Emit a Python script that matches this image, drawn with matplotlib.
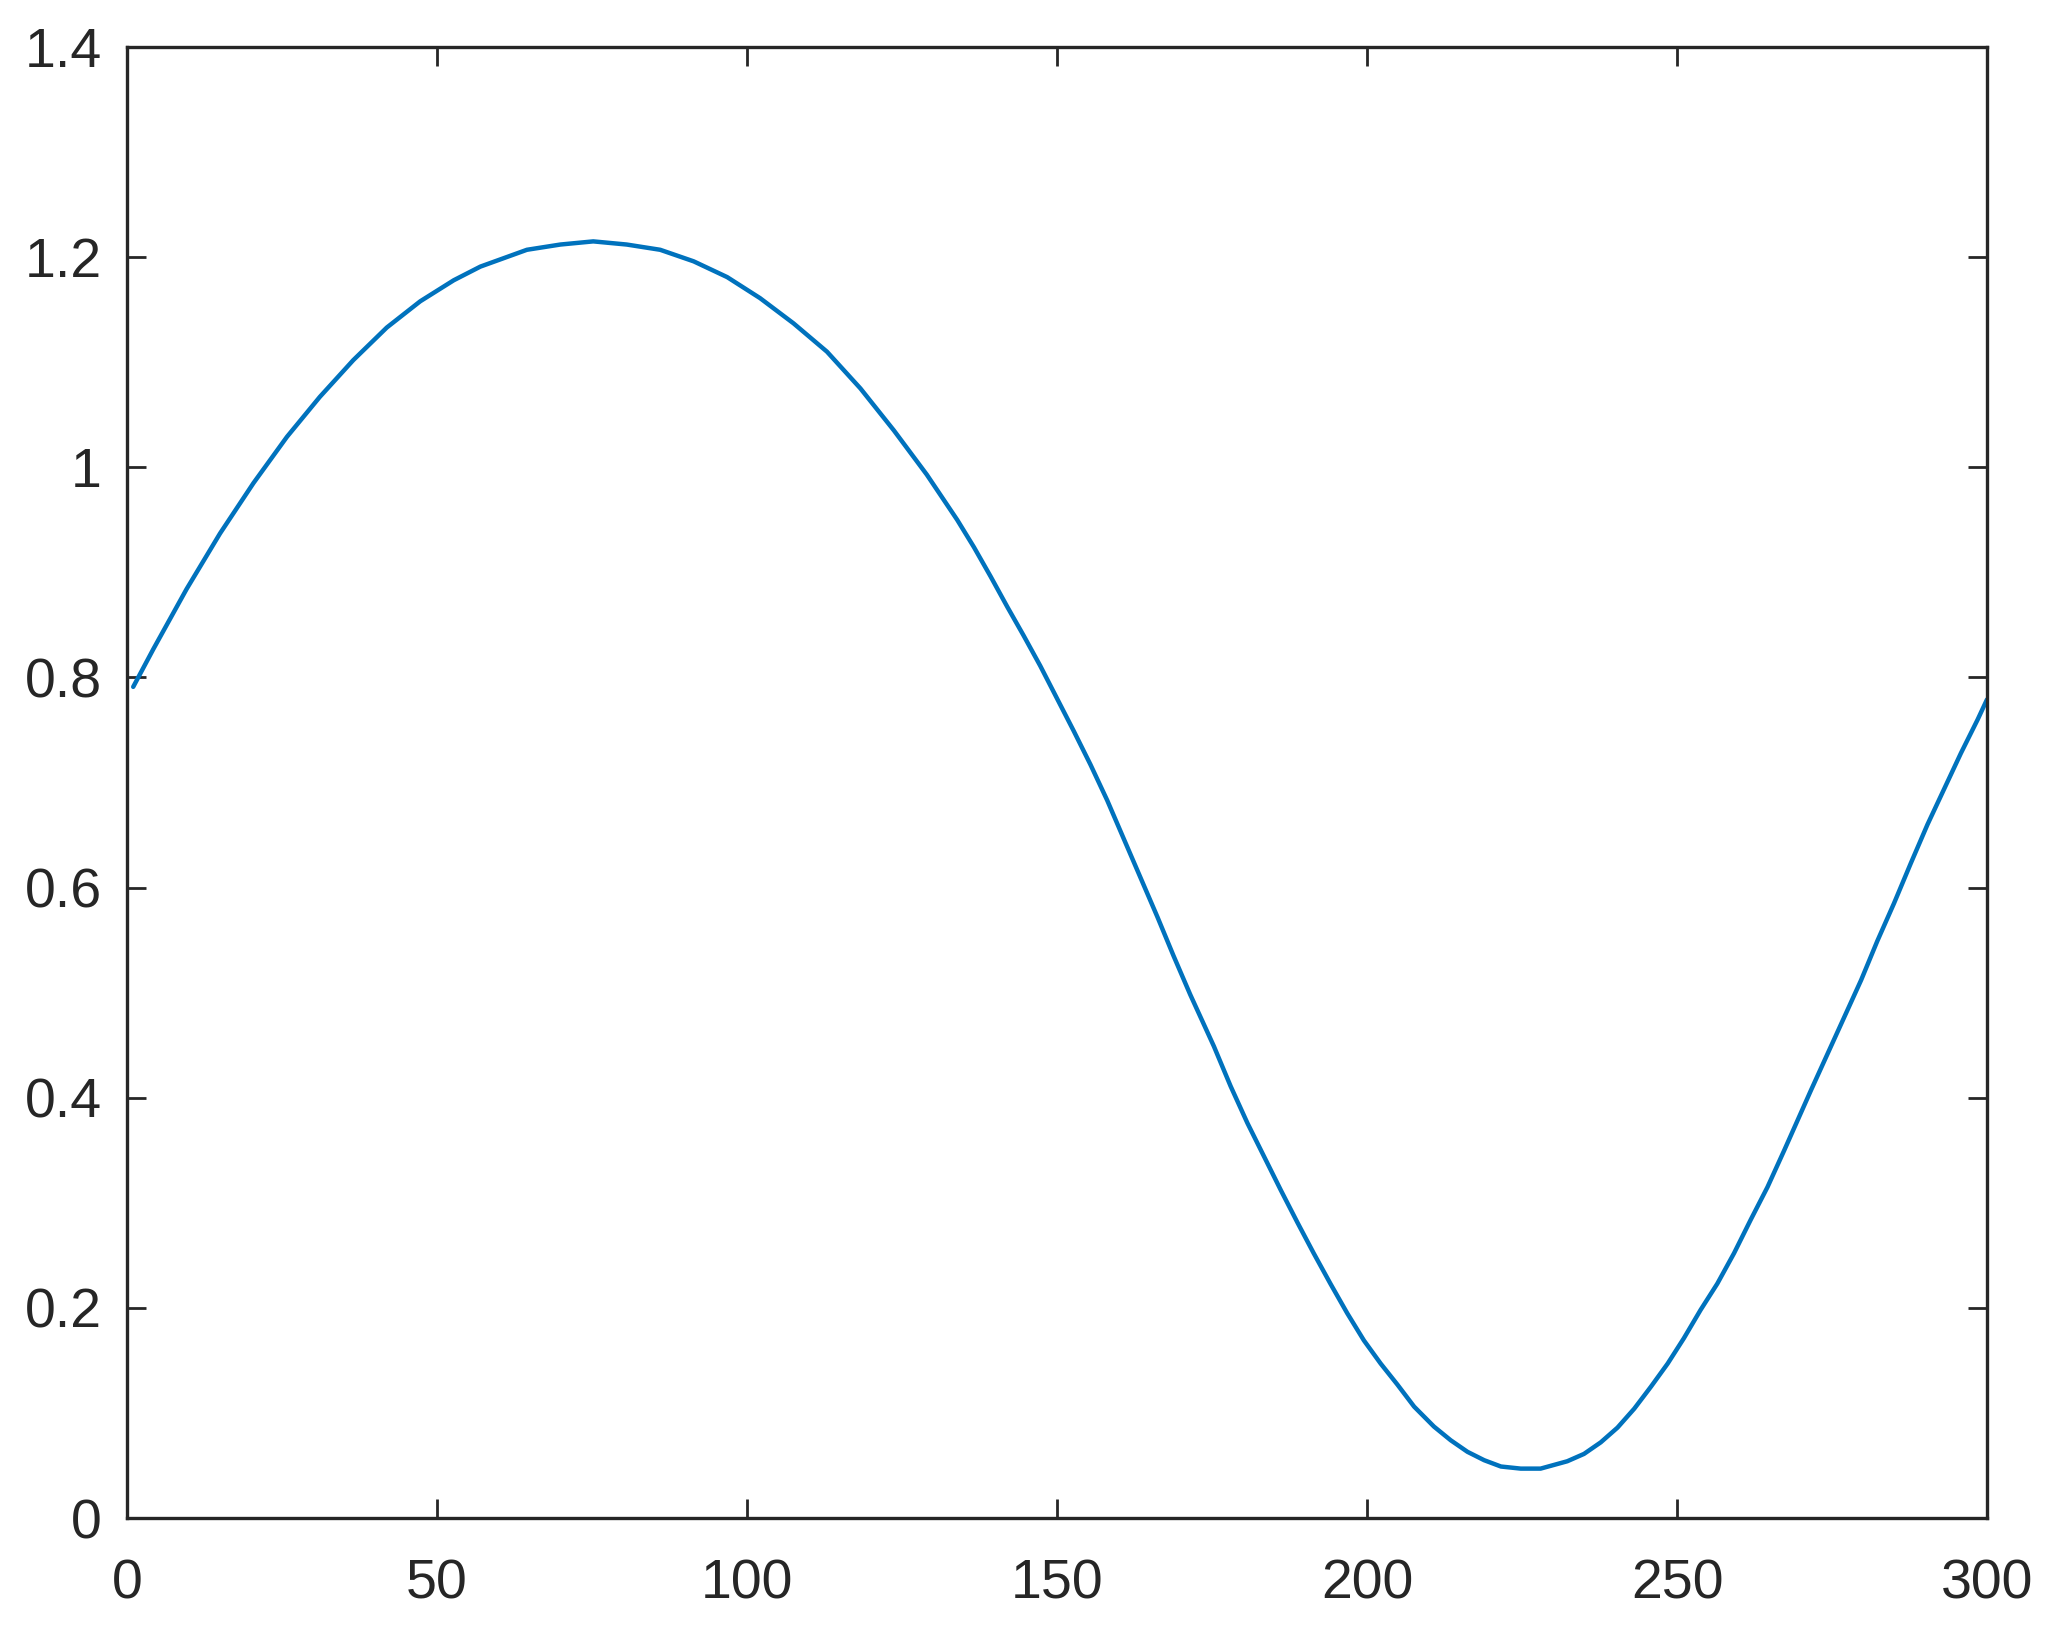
import matplotlib
matplotlib.use("Agg")
import matplotlib.pyplot as plt

# Values
x_vals = [1, 4.25, 9.6, 15.0, 20.4, 25.8, 31.1, 36.5, 41.9, 47.3, 52.7, 57.0,
          64.5, 69.9, 75.2, 80.6, 86.0, 91.4, 96.8, 102.1, 107.5, 112.9, 118.3,
          123.7, 129.0, 133.9, 136.6, 139.3, 142.0, 144.6, 147.3, 150.0, 152.7,
          155.4, 158.1, 160.8, 163.5, 166.2, 168.8, 171.5, 175.3, 178.0, 180.7,
          183.4, 186.1, 188.8, 191.4, 194.1, 196.8, 199.5, 202.2, 204.9, 207.6,
          210.8, 213.5, 216.2, 218.9, 221.6, 224.8, 228.0, 232.3, 235.0, 237.7,
          240.4, 243.1, 245.8, 248.5, 251.1, 253.8, 256.5, 259.2, 261.9, 264.6,
          267.3, 271.6, 274.3, 277.0, 279.7, 282.3, 285.0, 287.7, 290.4, 293.1,
          295.8, 298.5, 300.0]
y_vals = [0.791, 0.827, 0.884, 0.937, 0.985, 1.029, 1.067, 1.102, 1.133, 1.158,
          1.178, 1.191, 1.207, 1.212, 1.215, 1.212, 1.207, 1.196, 1.181, 1.161,
          1.137, 1.110, 1.075, 1.035, 0.993, 0.950, 0.924, 0.896, 0.867, 0.840,
          0.811, 0.780, 0.749, 0.717, 0.683, 0.646, 0.609, 0.572, 0.535, 0.498,
          0.449, 0.411, 0.376, 0.344, 0.312, 0.281, 0.252, 0.223, 0.195, 0.169,
          0.147, 0.127, 0.106, 0.087, 0.074, 0.063, 0.055, 0.049, 0.047, 0.047,
          0.054, 0.061, 0.072, 0.086, 0.104, 0.125, 0.147, 0.171, 0.198, 0.223,
          0.252, 0.284, 0.315, 0.350, 0.407, 0.442, 0.477, 0.512, 0.549, 0.585,
          0.623, 0.660, 0.694, 0.728, 0.760, 0.779]

x_ticks = [0, 50, 100, 150, 200, 250, 300]
y_ticks = [0, 0.2, 0.4, 0.6, 0.8, 1.0, 1.2, 1.4]
y_tick_labels = ["0", "0.2", "0.4", "0.6", "0.8", "1", "1.2", "1.4"]

plt.rcParams['font.family'] = ['Liberation Sans', 'DejaVu Sans']

fig = plt.figure(figsize=(2051 / 200, 1626 / 200), dpi=200)
ax = fig.add_axes([127 / 2051, 1 - 1518 / 1626, (1987 - 127) / 2051, (1518 - 47) / 1626])

ax.plot(x_vals, y_vals, color='#0072BD', linewidth=1.6,
        solid_joinstyle='round', solid_capstyle='round')

ax.set_xlim(0, 300)
ax.set_ylim(0, 1.4)
ax.set_xticks(x_ticks)
ax.set_yticks(y_ticks)
ax.set_yticklabels(y_tick_labels)

dark = '#262626'
for s in ax.spines.values():
    s.set_color(dark)
    s.set_linewidth(1.2)
ax.tick_params(axis='both', direction='in', length=6.9, width=1.0, colors=dark,
               labelsize=20, top=True, right=True)
ax.tick_params(axis='x', pad=14.5)
ax.tick_params(axis='y', pad=9)

fig.savefig("out.png", dpi=200, facecolor='white')
